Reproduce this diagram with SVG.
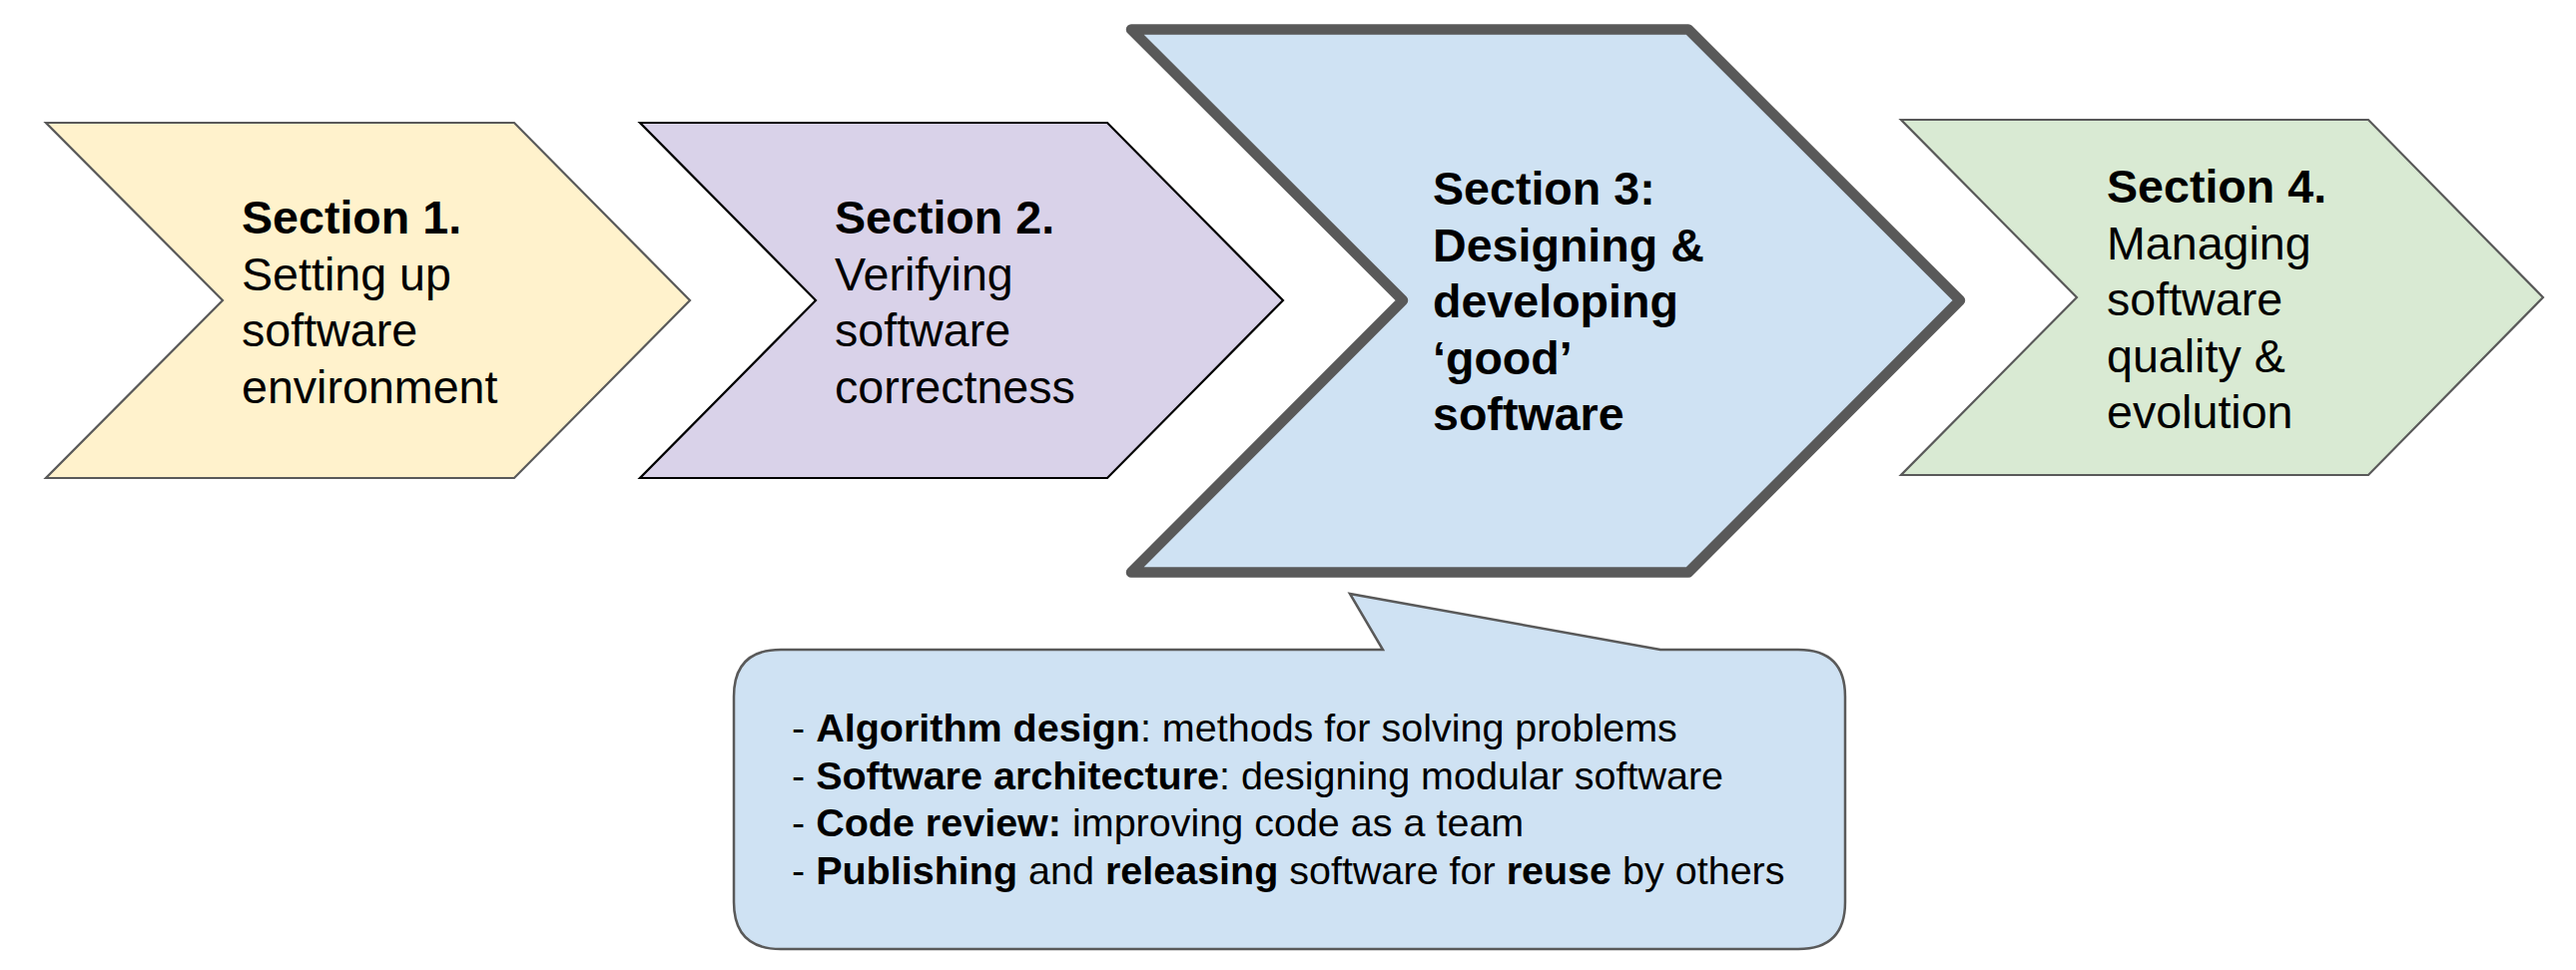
<svg xmlns="http://www.w3.org/2000/svg" width="2580" height="972" viewBox="0 0 2580 972">
<style>
text { font-family: "Liberation Sans", Arial, sans-serif; fill: #000000; }
.lbl { font-size: 46.6px; }
.call { font-size: 39.5px; }
.b { font-weight: bold; }
.thin { stroke-width: 2.2; stroke-linejoin: miter; }
</style>
<rect x="0" y="0" width="2580" height="972" fill="#ffffff"/>
<g id="section1">
<polygon class="thin" points="46,123 515,123 691,301 515,479 46,479 223,301" fill="#fff2cc" stroke="#595959"/>
<text class="lbl" x="242" y="234"><tspan class="b">Section 1.</tspan><tspan x="242" y="290.5">Setting up</tspan><tspan x="242" y="347">software</tspan><tspan x="242" y="403.5">environment</tspan></text>
</g>
<g id="section2">
<polygon class="thin" points="641,123 1109,123 1285,301 1109,479 641,479 817,301" fill="#d9d2e9" stroke="#000000"/>
<text class="lbl" x="836" y="234"><tspan class="b">Section 2.</tspan><tspan x="836" y="290.5">Verifying</tspan><tspan x="836" y="347">software</tspan><tspan x="836" y="403.5">correctness</tspan></text>
</g>
<g id="section3">
<polygon points="1133,29.5 1691,29.5 1963,301 1691,573.5 1133,573.5 1405,301" fill="#cfe2f3" stroke="#595959" stroke-width="10.5" stroke-linejoin="round"/>
<text class="lbl b" x="1435" y="205"><tspan>Section 3:</tspan><tspan x="1435" y="261.5">Designing &amp;</tspan><tspan x="1435" y="318">developing</tspan><tspan x="1435" y="374.5">‘good’</tspan><tspan x="1435" y="431">software</tspan></text>
</g>
<g id="section4">
<polygon class="thin" points="1904,120 2372,120 2547,298 2372,476 1904,476 2080,298" fill="#d9ead3" stroke="#595959"/>
<text class="lbl" x="2110" y="203"><tspan class="b">Section 4.</tspan><tspan x="2110" y="259.5">Managing</tspan><tspan x="2110" y="316">software</tspan><tspan x="2110" y="372.5">quality &amp;</tspan><tspan x="2110" y="429">evolution</tspan></text>
</g>
<g id="callout">
<path d="M 782,651 L 1385,651 L 1352,595 L 1663,651 L 1801,651 Q 1848,651 1848,698 L 1848,904 Q 1848,951 1801,951 L 782,951 Q 735,951 735,904 L 735,698 Q 735,651 782,651 Z" fill="#cfe2f3" stroke="#595959" stroke-width="2.5" stroke-linejoin="miter"/>
<text class="call" x="793" y="743">- <tspan class="b">Algorithm design</tspan>: methods for solving problems</text>
<text class="call" x="793" y="790.5">- <tspan class="b">Software architecture</tspan>: designing modular software</text>
<text class="call" x="793" y="838">- <tspan class="b">Code review:</tspan> improving code as a team</text>
<text class="call" x="793" y="885.5">- <tspan class="b">Publishing</tspan> and <tspan class="b">releasing</tspan> software for <tspan class="b">reuse</tspan> by others</text>
</g>
<g id="connectors"></g>
</svg>
